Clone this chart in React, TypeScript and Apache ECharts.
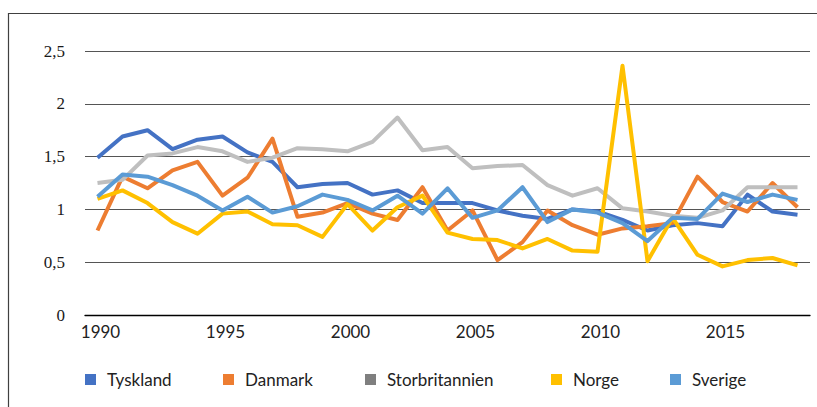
import React, { useEffect, useRef } from "react";
import * as echarts from "echarts";

const years = [
  "1990", "1991", "1992", "1993", "1994", "1995", "1996", "1997", "1998", "1999",
  "2000", "2001", "2002", "2003", "2004", "2005", "2006", "2007", "2008", "2009",
  "2010", "2011", "2012", "2013", "2014", "2015", "2016", "2017", "2018",
];

const tyskland = [
  1.49, 1.69, 1.75, 1.57, 1.66, 1.69, 1.54, 1.45, 1.21, 1.24,
  1.25, 1.14, 1.18, 1.06, 1.06, 1.06, 0.99, 0.94, 0.91, 1.0,
  0.98, 0.9, 0.8, 0.85, 0.87, 0.84, 1.14, 0.98, 0.95,
];
const danmark = [
  0.8, 1.31, 1.2, 1.37, 1.45, 1.13, 1.3, 1.67, 0.93, 0.97,
  1.06, 0.96, 0.9, 1.21, 0.8, 0.99, 0.52, 0.69, 0.99, 0.85,
  0.76, 0.82, 0.84, 0.87, 1.31, 1.07, 0.98, 1.25, 1.02,
];
const storbritannien = [
  1.25, 1.28, 1.51, 1.53, 1.59, 1.55, 1.45, 1.49, 1.58, 1.57,
  1.55, 1.64, 1.87, 1.56, 1.59, 1.39, 1.41, 1.42, 1.23, 1.13,
  1.2, 1.01, 0.98, 0.94, 0.92, 0.99, 1.21, 1.21, 1.21,
];
const norge = [
  1.1, 1.18, 1.06, 0.88, 0.77, 0.96, 0.98, 0.86, 0.85, 0.74,
  1.05, 0.8, 1.02, 1.13, 0.78, 0.72, 0.71, 0.63, 0.72, 0.61,
  0.6, 2.36, 0.51, 0.92, 0.57, 0.46, 0.52, 0.54, 0.47,
];
const sverige = [
  1.12, 1.33, 1.31, 1.23, 1.13, 0.99, 1.12, 0.97, 1.03, 1.14,
  1.09, 0.99, 1.13, 0.96, 1.2, 0.92, 0.99, 1.21, 0.88, 1.0,
  0.97, 0.87, 0.7, 0.92, 0.91, 1.15, 1.07, 1.14, 1.09,
];

const seriesNames = ["Tyskland", "Danmark", "Storbritannien", "Norge", "Sverige"];
const seriesData = [tyskland, danmark, storbritannien, norge, sverige];
const lineColors = ["#4472C4", "#ED7D31", "#BFBFBF", "#FFC000", "#5B9BD5"];
const legendColors = ["#4472C4", "#ED7D31", "#7F7F7F", "#FFC000", "#5B9BD5"];
const legendLefts = [85, 223, 365, 551, 670];

export default function App() {
  const ref = useRef<HTMLDivElement>(null);

  useEffect(() => {
    if (!ref.current) return;
    const chart = echarts.init(ref.current, null, { renderer: "svg" });
    const sansFont = "Lato, 'Open Sans', sans-serif";
    chart.setOption({
      animation: false,
      backgroundColor: "#ffffff",
      grid: { left: 85, right: 7, top: 51, bottom: 92, containLabel: false },
      graphic: [
        {
          type: "rect",
          shape: { x: 8.5, y: 13.5, width: 900, height: 500 },
          style: { fill: "none", stroke: "#404040", lineWidth: 1.2 },
          silent: true,
          z: 0,
        },
      ],
      legend: seriesNames.map((name, i) => ({
        data: [name],
        left: legendLefts[i],
        top: 371,
        padding: 0,
        icon: "rect",
        itemWidth: 11,
        itemHeight: 11,
        itemGap: 0,
        textStyle: {
          fontFamily: sansFont,
          fontSize: 17,
          color: "#222222",
          padding: [0, 0, 0, 6],
          lineHeight: 17,
        },
        selectedMode: false,
      })),
      xAxis: {
        type: "category",
        data: years,
        boundaryGap: true,
        axisLine: { show: true, lineStyle: { color: "#000000", width: 1.3 } },
        axisTick: { show: false },
        axisLabel: {
          interval: 4,
          margin: 8,
          fontFamily: sansFont,
          fontSize: 17,
          color: "#222222",
          padding: [0, 0, 0, 6],
        },
        splitLine: { show: false },
      },
      yAxis: {
        type: "value",
        min: 0,
        max: 2.5,
        interval: 0.5,
        axisLine: { show: false },
        axisTick: { show: false },
        axisLabel: {
          margin: 20,
          fontFamily: "'Liberation Serif', 'DejaVu Serif', serif",
          fontSize: 17,
          color: "#1a1a1a",
          formatter: (v: number) => String(v).replace(".", ","),
        },
        splitLine: { show: true, lineStyle: { color: "#555555", width: 1.2 } },
      },
      series: seriesNames.map((name, i) => ({
        name,
        type: "line",
        data: seriesData[i],
        showSymbol: false,
        symbol: "none",
        itemStyle: { color: legendColors[i] },
        lineStyle: { color: lineColors[i], width: 4, join: "round" },
        z: 3 + i,
      })),
    });
    return () => chart.dispose();
  }, []);

  return (
    <div
      ref={ref}
      style={{ position: "absolute", left: 0, top: 0, width: 817, height: 407 }}
    />
  );
}
